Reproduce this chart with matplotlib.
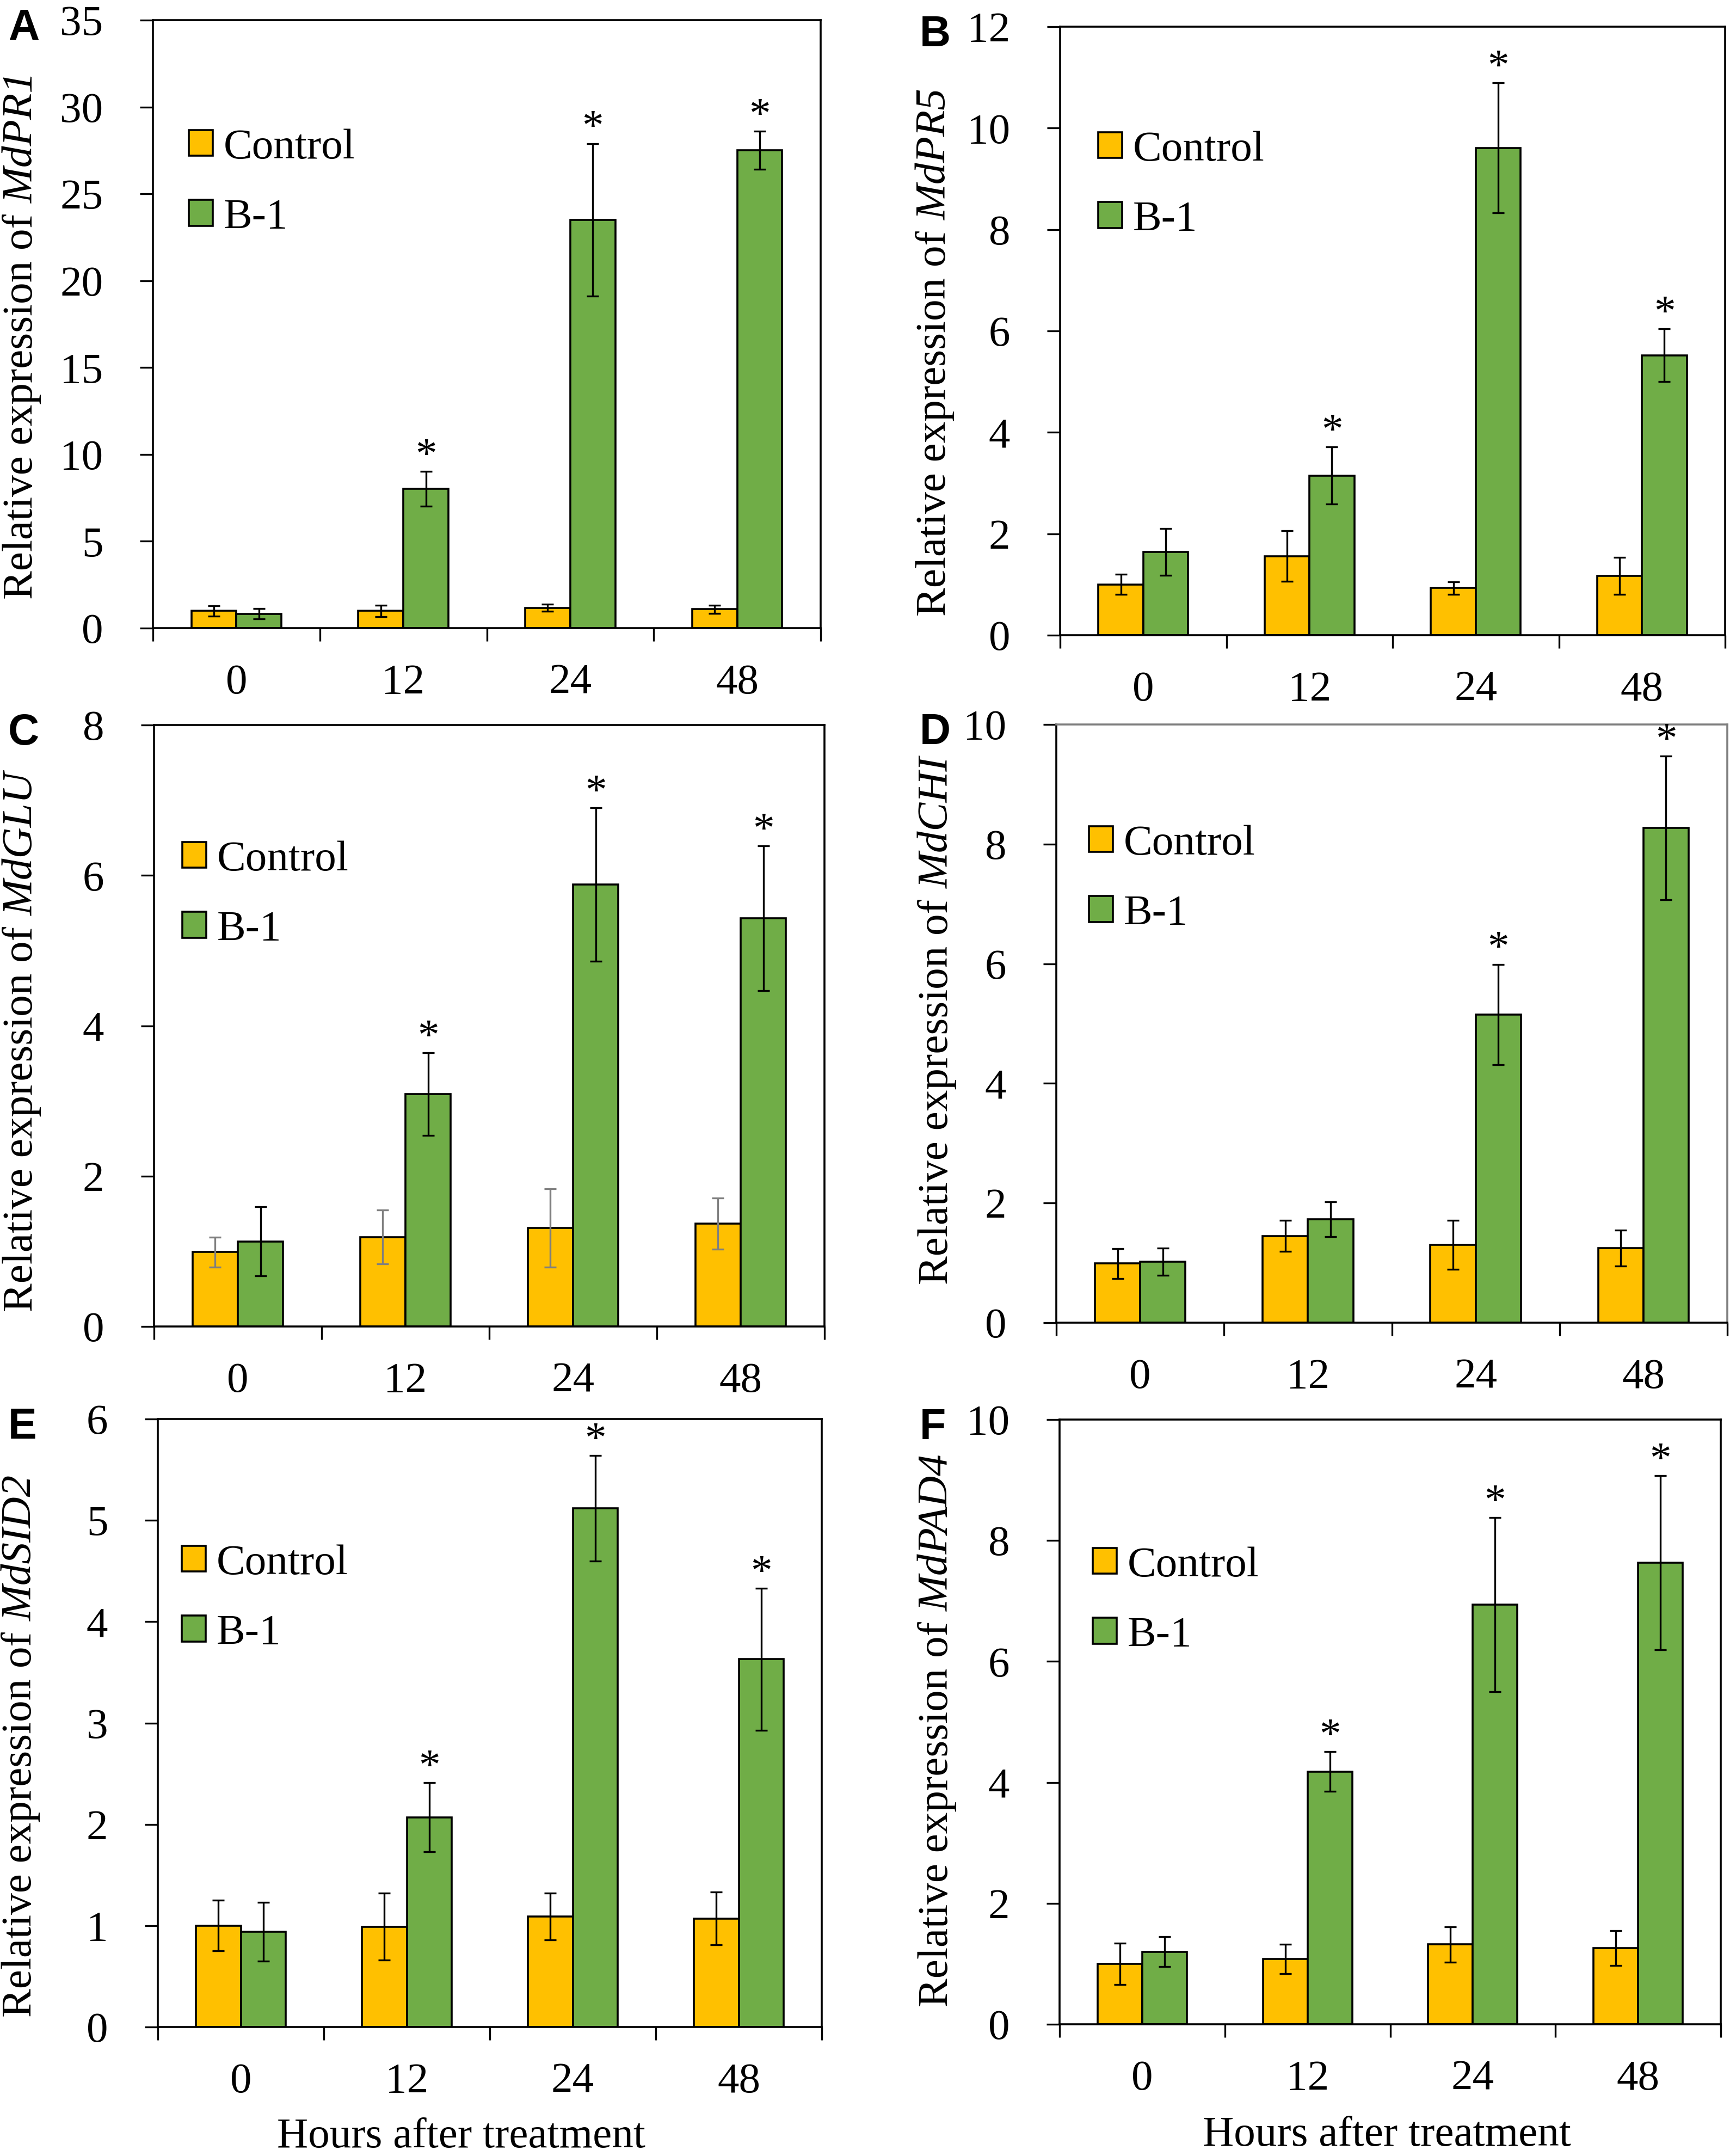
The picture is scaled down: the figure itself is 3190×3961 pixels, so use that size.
"""Relative expression of six apple defence genes after B-1 treatment (panels A-F)."""

import matplotlib

matplotlib.use("Agg")
import matplotlib.pyplot as plt
import numpy as np
from matplotlib.patches import Patch

plt.rcParams["font.family"] = ["Liberation Serif", "DejaVu Serif"]

# ---- data ---------------------------------------------------------------
hours = ["0", "12", "24", "48"]
series = ["Control", "B-1"]

# A: MdPR1
pr1_ctrl = [1.00, 1.00, 1.17, 1.09]
pr1_ctrl_sd = [0.30, 0.33, 0.20, 0.23]
pr1_b1 = [0.83, 8.02, 23.5, 27.5]
pr1_b1_sd = [0.30, 1.00, 4.40, 1.10]
pr1_sig = [False, True, True, True]

# B: MdPR5
pr5_ctrl = [1.00, 1.56, 0.93, 1.17]
pr5_ctrl_sd = [0.20, 0.50, 0.12, 0.36]
pr5_b1 = [1.64, 3.15, 9.61, 5.52]
pr5_b1_sd = [0.46, 0.56, 1.28, 0.52]
pr5_sig = [False, True, True, True]

# C: MdGLU
glu_ctrl = [0.99, 1.19, 1.31, 1.37]
glu_ctrl_sd = [0.20, 0.36, 0.52, 0.34]
glu_b1 = [1.13, 3.09, 5.88, 5.43]
glu_b1_sd = [0.46, 0.55, 1.02, 0.96]
glu_sig = [False, True, True, True]

# D: MdCHI
chi_ctrl = [0.99, 1.45, 1.30, 1.25]
chi_ctrl_sd = [0.25, 0.26, 0.41, 0.30]
chi_b1 = [1.02, 1.73, 5.15, 8.27]
chi_b1_sd = [0.23, 0.29, 0.84, 1.20]
chi_sig = [False, False, True, True]

# E: MdSID2
sid2_ctrl = [1.00, 0.99, 1.09, 1.07]
sid2_ctrl_sd = [0.25, 0.33, 0.23, 0.26]
sid2_b1 = [0.94, 2.07, 5.12, 3.63]
sid2_b1_sd = [0.29, 0.34, 0.52, 0.70]
sid2_sig = [False, True, True, True]

# F: MdPAD4
pad4_ctrl = [1.00, 1.08, 1.32, 1.26]
pad4_ctrl_sd = [0.34, 0.24, 0.29, 0.29]
pad4_b1 = [1.20, 4.18, 6.94, 7.63]
pad4_b1_sd = [0.25, 0.33, 1.44, 1.44]
pad4_sig = [False, True, True, True]

CTRL_COLOR = "#FFC000"
B1_COLOR = "#70AD47"

W, H = 3190, 3961
FS = 57

# panel layout in pixels: (letter, gene, data, ymax, ystep, left, right, top, bottom,
#                          legend_xy, ylabel_xy, ctrl_err_color, grey_frame)
panels = [
    ("A", "MdPR1", (pr1_ctrl, pr1_ctrl_sd, pr1_b1, pr1_b1_sd, pr1_sig), 35, 5,
     281, 1508, 37, 1154, (347, 236), (40, 616), "black", False),
    ("B", "MdPR5", (pr5_ctrl, pr5_ctrl_sd, pr5_b1, pr5_b1_sd, pr5_sig), 12, 2,
     1948, 3170, 49, 1167, (2018, 240), (1718, 647), "black", False),
    ("C", "MdGLU", (glu_ctrl, glu_ctrl_sd, glu_b1, glu_b1_sd, glu_sig), 8, 2,
     283, 1515, 1332, 2437, (335, 1544), (40, 1914), "#7F7F7F", False),
    ("D", "MdCHI", (chi_ctrl, chi_ctrl_sd, chi_b1, chi_b1_sd, chi_sig), 10, 2,
     1941, 3174, 1331, 2430, (2001, 1515), (1722, 1875), "black", True),
    ("E", "MdSID2", (sid2_ctrl, sid2_ctrl_sd, sid2_b1, sid2_b1_sd, sid2_sig), 6, 1,
     290, 1510, 2607, 3724, (334, 2837), (38, 3208), "black", False),
    ("F", "MdPAD4", (pad4_ctrl, pad4_ctrl_sd, pad4_b1, pad4_b1_sd, pad4_sig), 10, 2,
     1947, 3162, 2608, 3719, (2008, 2841), (1722, 3179), "black", False),
]
xlabel_centers = {"E": (847, 3926), "F": (2548, 3923)}

fig = plt.figure(figsize=(W / 100, H / 100), dpi=100)
renderer = fig.canvas.get_renderer()


def rotated_label(x_px, y_px, plain, italic, size):
    """Vertical label made of an upright part followed by an italic gene name."""
    t1 = fig.text(0, 0, plain, rotation=90, rotation_mode="anchor",
                  ha="left", va="center", fontsize=size)
    t2 = fig.text(0, 0, italic, rotation=90, rotation_mode="anchor",
                  ha="left", va="center", fontsize=size, style="italic")
    l1 = t1.get_window_extent(renderer).height
    l2 = t2.get_window_extent(renderer).height
    gap = size * 100 / 72 * 0.25
    y0 = (H - y_px) - (l1 + gap + l2) / 2
    t1.set_position((x_px / W, y0 / H))
    t2.set_position((x_px / W, (y0 + l1 + gap) / H))


for (letter, gene, data, ymax, ystep, left, right, top, bottom,
     leg_xy, ylab_xy, ctrl_ecol, grey_frame) in panels:
    ctrl, ctrl_sd, b1, b1_sd, sig = data
    ax = fig.add_axes([left / W, 1 - bottom / H, (right - left) / W, (bottom - top) / H])

    centers = np.arange(len(hours)) + 0.5
    bw = 0.27
    x_ctrl = centers - bw / 2
    x_b1 = centers + bw / 2
    ax.bar(x_ctrl, ctrl, bw, color=CTRL_COLOR, edgecolor="black", linewidth=2.6, zorder=2)
    ax.bar(x_b1, b1, bw, color=B1_COLOR, edgecolor="black", linewidth=2.6, zorder=2)
    ax.errorbar(x_ctrl, ctrl, yerr=ctrl_sd, fmt="none", ecolor=ctrl_ecol,
                elinewidth=2.4, capsize=8, capthick=2.4, zorder=3)
    ax.errorbar(x_b1, b1, yerr=b1_sd, fmt="none", ecolor="black",
                elinewidth=2.4, capsize=8, capthick=2.4, zorder=3)
    for xi, yi, ei, s in zip(x_b1, b1, b1_sd, sig):
        if s:
            ax.annotate("*", xy=(xi, yi + ei), xytext=(0, 6), textcoords="offset points",
                        ha="center", va="baseline", fontsize=FS, zorder=4)

    ax.set_xlim(0, len(hours))
    ax.set_ylim(0, ymax)
    ax.set_yticks(np.arange(0, ymax + ystep / 2, ystep))
    ax.set_xticks(np.arange(len(hours) + 1))
    ax.set_xticklabels([])
    ax.set_xticks(centers, labels=hours, minor=True)
    ax.tick_params(axis="x", which="major", direction="out", length=17, width=2.4)
    ax.tick_params(axis="x", which="minor", length=0, pad=47, labelsize=FS)
    ax.tick_params(axis="y", direction="out", length=17, width=2.4, pad=49, labelsize=FS)

    for side in ["left", "bottom", "top", "right"]:
        ax.spines[side].set_linewidth(2.6)
        ax.spines[side].set_color("black")
    if grey_frame:
        ax.spines["top"].set_color("#7F7F7F")
        ax.spines["right"].set_color("#7F7F7F")

    rotated_label(ylab_xy[0], ylab_xy[1], "Relative expression of", gene, FS)

    if letter in xlabel_centers:
        cx, cy = xlabel_centers[letter]
        ax.set_xlabel("Hours after treatment", fontsize=FS, va="center", ha="center")
        ax.xaxis.set_label_coords((cx - left) / (right - left), (bottom - cy) / (bottom - top))

    handles = [Patch(facecolor=CTRL_COLOR, edgecolor="black", linewidth=2.6),
               Patch(facecolor=B1_COLOR, edgecolor="black", linewidth=2.6)]
    ax.legend(handles, series, loc="upper left",
              bbox_to_anchor=((leg_xy[0] - left) / (right - left),
                              (bottom - leg_xy[1]) / (bottom - top)),
              frameon=False, fontsize=FS, borderpad=0, borderaxespad=0,
              handlelength=0.55, handleheight=0.55, handletextpad=0.25,
              labelspacing=0.72)

    fig.text((15 if letter in "ACE" else 1690) / W, 1 - (top - 22) / H, letter,
             ha="left", va="top", fontsize=57, fontweight="bold",
             family=["Liberation Sans", "DejaVu Sans"])

fig.savefig("out.png", dpi=100)
